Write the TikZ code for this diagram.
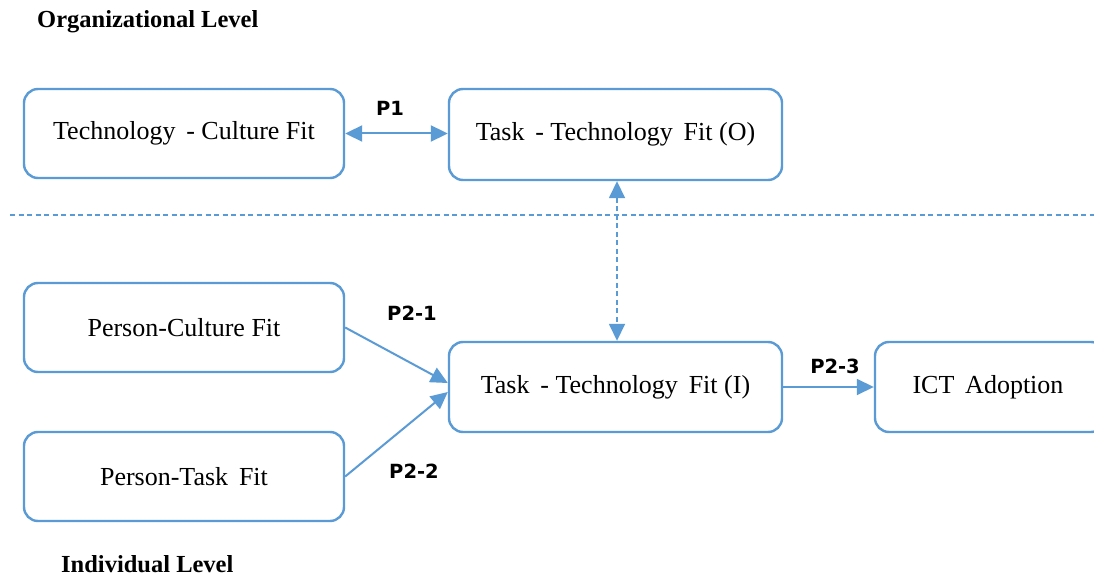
\documentclass[tikz,border=0pt]{standalone}
\usepackage{fontspec}
\setmainfont{Liberation Serif}
\newfontfamily\lblfont{DejaVu Sans}
\usetikzlibrary{arrows.meta,calc}
\definecolor{boxblue}{HTML}{5B9BD5}
\newcommand{\boxtext}[1]{\raisebox{-2pt}{#1}}
\tikzset{
  fitbox/.style={draw=boxblue, line width=2.4pt, rounded corners=14pt, fill=white,
    minimum width=#1, minimum height=89pt, inner sep=0pt, font=\fontsize{26}{30}\selectfont},
  conn/.style={draw=boxblue, line width=2pt},
  >={Triangle[length=17pt,width=16pt]},
  plabel/.style={font=\lblfont\bfseries\fontsize{19.5}{23}\selectfont, inner sep=0pt},
  levellabel/.style={font=\bfseries\fontsize{24.5}{28}\selectfont, inner sep=0pt, anchor=west}
}
\begin{document}
\begin{tikzpicture}[x=1pt,y=-1pt]
\useasboundingbox (0,0) rectangle (1094,577);
\clip (0,0) rectangle (1094,577);
\fill[white] (0,0) rectangle (1094,577);

\node[levellabel] (orglvl) at (37,22) {Organizational Level};
\node[levellabel] (indlvl) at (61,564) {Individual Level};

\node[fitbox=320pt] (tcf) at (184,133.5) {\boxtext{Technology\, - Culture Fit}};
\node[fitbox=333pt, minimum height=91pt] (tto) at (615.5,134.5) {\boxtext{Task\, - Technology\, Fit (O)}};
\node[fitbox=320pt] (pcf) at (184,327.5) {\boxtext{Person-Culture Fit}};
\node[fitbox=320pt] (ptf) at (184,476.5) {\boxtext{Person-Task\, Fit}};
\node[fitbox=333pt, minimum height=90pt] (tti) at (615.5,387) {\boxtext{Task\, - Technology\, Fit (I)}};
\node[fitbox=230pt, minimum height=90pt] (ict) at (990,387) {\boxtext{\hspace*{-4pt}ICT\, Adoption}};

\coordinate (dl) at (10,215);
\coordinate (dr) at (1094,215);
\draw[boxblue, line width=1.6pt, dash pattern=on 5pt off 3.5pt] (dl) -- (dr);

\draw[conn, <->] (tcf.east) -- (tcf.east -| tto.west);
\draw[conn, line width=1.6pt, dash pattern=on 5pt off 3.5pt, <->] ($(tto.south)+(1.5,0)$) -- ($(tti.north)+(1.5,0)$);
\draw[conn, ->] (pcf.east) -- ($(tti.west)+(0,-4)$);
\draw[conn, ->] (ptf.east) -- ($(tti.west)+(0,5)$);
\draw[conn, line width=1.6pt, ->] (tti.east) -- (ict.west);

\node[plabel] (p1) at (390,108) {P1};
\node[plabel] (p21) at (412,313) {P2-1};
\node[plabel] (p22) at (414,471) {P2-2};
\node[plabel] (p23) at (835,366) {P2-3};
\end{tikzpicture}
\end{document}
